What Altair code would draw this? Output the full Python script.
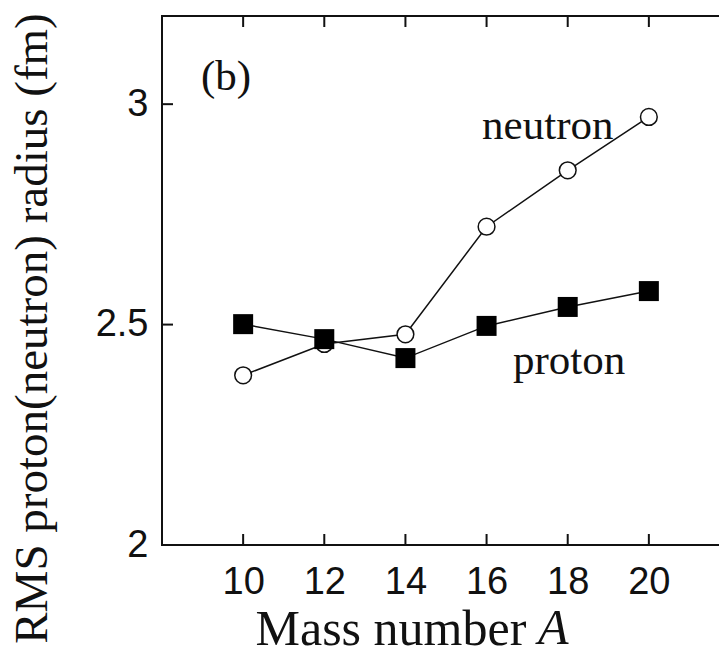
import altair as alt
import pandas as pd

# Data
A = [10, 12, 14, 16, 18, 20]
neutron = [2.385, 2.456, 2.478, 2.722, 2.850, 2.971]
proton = [2.501, 2.467, 2.424, 2.497, 2.540, 2.576]

x_ticks = [10, 12, 14, 16, 18, 20]
y_ticks = [2, 2.5, 3]

label_text = ["neutron", "proton", "(b)"]
label_x = [15.89, 16.65, 8.96]
label_y = [2.921, 2.388, 3.032]

W, H = 568, 529
TICK = 11
TITLE_Y = 99

df = pd.DataFrame({
    "A": A + A,
    "r": neutron + proton,
    "s": ["neutron"] * len(A) + ["proton"] * len(A),
})
df_n = df[df.s == "neutron"]
df_p = df[df.s == "proton"]

xscale = alt.Scale(domain=[8, 22], nice=False, zero=False)
yscale = alt.Scale(domain=[2, 3.2], nice=False, zero=False)

x_axis = alt.Axis(
    values=x_ticks, grid=False, domain=False, ticks=False, tickSize=0,
    labelFont="Liberation Sans", labelFontSize=38, labelColor="#111",
    labelPadding=18,
    title="Mass number", titleFont="Liberation Serif", titleFontSize=50,
    titleFontWeight="normal", titleColor="#111", titleAlign="left",
    titleX=93, titleY=TITLE_Y, titleBaseline="alphabetic",
)
y_axis = alt.Axis(
    values=y_ticks, grid=False, domain=False, ticks=False, tickSize=0,
    format="~g",
    labelFont="Liberation Sans", labelFontSize=38, labelColor="#111",
    labelPadding=14,
    title="RMS proton(neutron) radius (fm)", titleFont="Liberation Serif",
    titleFontSize=47, titleFontWeight="normal", titleColor="#111",
    titleAngle=270, titleAlign="center", titleBaseline="alphabetic",
    titleX=-116, titleY=312,
)


def X(field):
    return alt.X(field, scale=xscale, axis=x_axis)


def Y(field):
    return alt.Y(field, scale=yscale, axis=y_axis)


lines = alt.Chart(df).mark_line(color="#111", strokeWidth=1.5).encode(
    x=X("A:Q"), y=Y("r:Q"), detail="s:N",
)

circles = alt.Chart(df_n).mark_point(
    shape="circle", size=280, fill="white", stroke="#111",
    strokeWidth=1.5, opacity=1, fillOpacity=1,
).encode(x=X("A:Q"), y=Y("r:Q"))

squares = alt.Chart(df_p).mark_point(
    shape="square", size=400, filled=True, color="black", opacity=1,
).encode(x=X("A:Q"), y=Y("r:Q"))

xt = pd.DataFrame({"A": x_ticks})
yt = pd.DataFrame({"r": [2.5, 3]})

bottom_ticks = alt.Chart(xt).mark_rule(color="#111", strokeWidth=2).encode(
    x=X("A:Q"), y=alt.value(H), y2=alt.value(H - TICK),
)
top_ticks = alt.Chart(xt).mark_rule(color="#111", strokeWidth=2).encode(
    x=X("A:Q"), y=alt.value(0), y2=alt.value(TICK),
)
left_ticks = alt.Chart(yt).mark_rule(color="#111", strokeWidth=2).encode(
    y=Y("r:Q"), x=alt.value(0), x2=alt.value(TICK),
)
right_ticks = alt.Chart(yt).mark_rule(color="#111", strokeWidth=2).encode(
    y=Y("r:Q"), x=alt.value(W), x2=alt.value(W - TICK),
)

labels = alt.Chart(
    pd.DataFrame({"t": label_text, "A": label_x, "r": label_y})
).mark_text(
    font="Liberation Serif", fontSize=43, align="left",
    baseline="alphabetic", color="#111",
).encode(x=X("A:Q"), y=Y("r:Q"), text="t:N")

italic_a = alt.Chart(pd.DataFrame({"t": ["A"]})).mark_text(
    font="Liberation Serif", fontSize=50, fontStyle="italic", align="left",
    baseline="alphabetic", color="#111",
).encode(x=alt.value(376), y=alt.value(H + TITLE_Y), text="t:N")

chart = alt.layer(
    lines, circles, squares, bottom_ticks, top_ticks, left_ticks, right_ticks,
    labels, italic_a,
).properties(
    width=W, height=H,
    autosize=alt.AutoSizeParams(type="none"),
    padding={"left": 154, "top": 8, "right": -11, "bottom": 103},
).configure_view(stroke="#111", strokeWidth=2)

chart.save("out.html", embed_options={"renderer": "svg", "actions": False})
